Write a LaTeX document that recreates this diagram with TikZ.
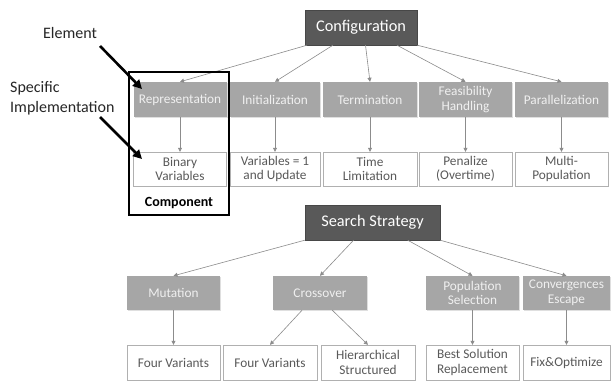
\documentclass[tikz,border=0pt]{standalone}
\usepackage{fontspec}
\setmainfont{Carlito}
\usetikzlibrary{arrows.meta,calc,shadows}
\definecolor{darkbox}{HTML}{595959}
\definecolor{midbox}{HTML}{A6A6A6}
\definecolor{leafline}{HTML}{B0B0B0}
\definecolor{leaftext}{HTML}{595959}
\definecolor{conn}{HTML}{8C8C8C}
\tikzset{
  topbox/.style={draw=darkbox!80!black,fill=darkbox,text=white,minimum height=35pt,inner sep=1pt,font=\fontsize{16.3}{18}\selectfont,drop shadow={opacity=0.3,shadow xshift=1pt,shadow yshift=-1pt}},
  elembox/.style={fill=midbox,text=white!94!black,minimum width=93pt,minimum height=35pt,inner sep=1pt,align=center,font=\fontsize{13.3}{14.5}\selectfont,drop shadow={opacity=0.25,shadow xshift=1pt,shadow yshift=-1pt}},
  leafbox/.style={draw=leafline,fill=white,text=leaftext,minimum width=93pt,minimum height=34pt,inner sep=1pt,align=center,font=\fontsize{13.3}{14.5}\selectfont},
  conn/.style={draw=conn,line width=0.6pt,-{Triangle[length=4pt,width=4pt]}},
  bigarrow/.style={draw=black,line width=2.6pt,-{Triangle[length=9pt,width=9pt]}},
  lbl/.style={text=black!85,font=\fontsize{16}{20}\selectfont,inner sep=0pt}
}
\begin{document}
\begin{tikzpicture}[x=1pt,y=-1pt]
\useasboundingbox (0,0) rectangle (611,383);
\fill[white] (0,0) rectangle (611,383);
% top tree
\node[topbox,minimum width=112pt] (conf) at (361,27.5) {Configuration};
\node[elembox] (rep) at (180,99.5) {Representation};
\node[elembox,minimum width=90pt] (ini) at (275,99.5) {Initialization};
\node[elembox,minimum width=94pt] (ter) at (370,99.5) {Termination};
\node[elembox] (fea) at (465.5,99.5) {Feasibility\\Handling};
\node[elembox] (par) at (561.5,99.5) {Parallelization};
\node[leafbox] (repl) at (180,169) {Binary\\Variables};
\node[leafbox,minimum width=90pt] (inil) at (275,169) {Variables = 1\\and Update};
\node[leafbox,minimum width=94pt] (terl) at (370,169) {Time\\Limitation};
\node[leafbox] (feal) at (465.5,169) {Penalize\\(Overtime)};
\node[leafbox] (parl) at (561.5,169) {Multi-\\Population};
\draw[conn] ($(conf.south west)!0.02!(conf.south east)$) -- (rep.north);
\draw[conn] ($(conf.south west)!0.25!(conf.south east)$) -- (ini.north);
\draw[conn] ($(conf.south west)!0.54!(conf.south east)$) -- (ter.north);
\draw[conn] ($(conf.south west)!0.82!(conf.south east)$) -- (fea.north);
\draw[conn] ($(conf.south west)!1!(conf.south east)$) -- (par.north);
\foreach \a/\b in {rep/repl,ini/inil,ter/terl,fea/feal,par/parl}
  \draw[conn] (\a.south) -- (\b.north);
% component frame
\draw[black,line width=1.6pt] (129,72) rectangle (229,215);
\node[font=\bfseries\fontsize{14}{16}\selectfont,text=black,inner sep=0pt] (comp) at (179,203) {Component};
% left labels
\node[lbl] (elem) at (70,33) {Element};
\node[lbl,align=left,anchor=west,font=\fontsize{16}{20}\selectfont] (spec) at (10,98) {Specific\\Implementation};
\coordinate (ea) at (100,46);
\coordinate (eb) at (142,89);
\coordinate (sa) at (100,117);
\coordinate (sb) at (142,159);
\draw[bigarrow] (ea) -- (eb);
\draw[bigarrow] (sa) -- (sb);
% bottom tree
\node[topbox,minimum width=135pt] (ss) at (372.5,222.5) {Search Strategy};
\node[elembox,minimum height=34pt] (mut) at (173.5,293) {Mutation};
\node[elembox,minimum height=34pt,minimum width=94pt] (cro) at (320,293) {Crossover};
\node[elembox,minimum height=34pt] (pop) at (472.5,293) {Population\\Selection};
\node[elembox,minimum height=34pt,minimum width=87pt] (cnv) at (566.5,293) {Convergences\\Escape};
\node[leafbox,minimum height=35pt] (mutl) at (173.5,362.5) {Four Variants};
\node[leafbox,minimum height=35pt,minimum width=94pt] (crol) at (270,362.5) {Four Variants};
\node[leafbox,minimum height=35pt,minimum width=94pt] (hier) at (368,362.5) {Hierarchical\\Structured};
\node[leafbox,minimum height=35pt] (best) at (472.5,362.5) {Best Solution\\Replacement};
\node[leafbox,minimum height=35pt,minimum width=87pt] (fix) at (566.5,362.5) {Fix\&Optimize};
\draw[conn] ($(ss.south west)!0!(ss.south east)$) -- (mut.north);
\draw[conn] ($(ss.south west)!0.36!(ss.south east)$) -- (cro.north);
\draw[conn] ($(ss.south west)!0.76!(ss.south east)$) -- (pop.north);
\draw[conn] ($(ss.south west)!1!(ss.south east)$) -- (cnv.north);
\draw[conn] (mut.south) -- (mutl.north);
\draw[conn] ($(cro.south west)!0.31!(cro.south east)$) -- (crol.north);
\draw[conn] ($(cro.south west)!0.63!(cro.south east)$) -- (hier.north);
\draw[conn] (pop.south) -- (best.north);
\draw[conn] (cnv.south) -- (fix.north);
\end{tikzpicture}
\end{document}
